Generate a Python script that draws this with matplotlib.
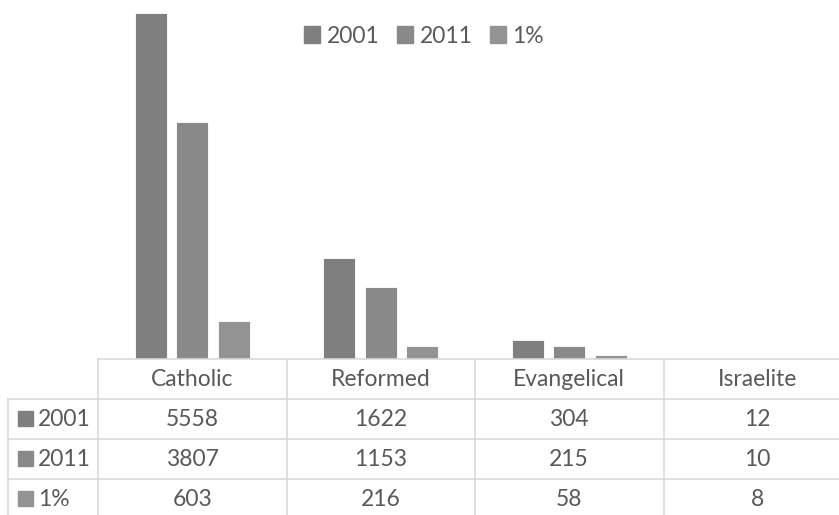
import matplotlib

matplotlib.use("Agg")
import matplotlib.pyplot as plt
from matplotlib.lines import Line2D
from matplotlib.patches import Rectangle
import numpy as np

categories = ["Catholic", "Reformed", "Evangelical", "Israelite"]
series_names = ["2001", "2011", "1%"]
v2001 = [5558, 1622, 304, 12]
v2011 = [3807, 1153, 215, 10]
v1pct = [603, 216, 58, 8]
series_values = [v2001, v2011, v1pct]
colors = ["#7f7f7f", "#898989", "#939393"]

W, H = 839, 515
TXT = "#595959"
GRID = "#d9d9d9"
FS = 16.5

plt.rcParams["font.family"] = ["Lato", "DejaVu Sans"]

fig = plt.figure(figsize=(W / 100, H / 100), dpi=100)


def fx(x):
    return x / W


def fy(y):
    return 1 - y / H


# plot area (cropped at the right and top like the original)
left_px, col_w = 98, 188.5
base_px = 359
right_px = left_px + col_w * len(categories)
ax = fig.add_axes([fx(left_px), fy(base_px), (right_px - left_px) / W, base_px / H])
ax.set_xlim(-0.5, len(categories) - 0.5)
ax.set_ylim(0, 5767)
ax.axis("off")

x = np.arange(len(categories))
bw, step = 0.17, 0.22
for i, (name, vals) in enumerate(zip(series_names, series_values)):
    ax.bar(x + (i - 1) * step, vals, width=bw, color=colors[i],
           edgecolor="white", linewidth=0.6, label=name, zorder=2)

# legend
handles = [Rectangle((0, 0), 1, 1, color=c) for c in colors]
fig.legend(handles, series_names, loc="center", bbox_to_anchor=(fx(424), fy(36)),
           ncol=3, frameon=False, fontsize=FS, labelcolor=TXT,
           handlelength=0.7, handleheight=0.7, handletextpad=0.3, columnspacing=0.75)

# data table
row_h = 40
rows_y = [base_px + row_h * k for k in range(5)]


def hline(x0, x1, y):
    fig.add_artist(Line2D([fx(x0), fx(x1)], [fy(y), fy(y)], color=GRID, lw=1.2))


def vline(x0, y0, y1):
    fig.add_artist(Line2D([fx(x0), fx(x0)], [fy(y0), fy(y1)], color=GRID, lw=1.2))


hline(left_px, right_px, rows_y[0])
for y in rows_y[1:4]:
    hline(8, right_px, y)
vline(8, rows_y[1], rows_y[4])
for k in range(len(categories) + 1):
    vline(left_px + col_w * k, rows_y[0], rows_y[4])

for j, cat in enumerate(categories):
    cx = left_px + col_w * (j + 0.5)
    fig.text(fx(cx), fy(rows_y[0] + row_h / 2), cat, ha="center", va="center",
             fontsize=FS, color=TXT)
    for i, vals in enumerate(series_values):
        fig.text(fx(cx), fy(rows_y[i + 1] + row_h / 2), str(vals[j]), ha="center",
                 va="center", fontsize=FS, color=TXT)

for i, name in enumerate(series_names):
    yc = rows_y[i + 1] + row_h / 2
    fig.add_artist(Rectangle((fx(18), fy(yc + 7)), 15 / W, 15 / H, color=colors[i],
                             transform=fig.transFigure))
    fig.text(fx(38), fy(yc), name, ha="left", va="center", fontsize=FS, color=TXT)

fig.savefig("out.png", dpi=100)
